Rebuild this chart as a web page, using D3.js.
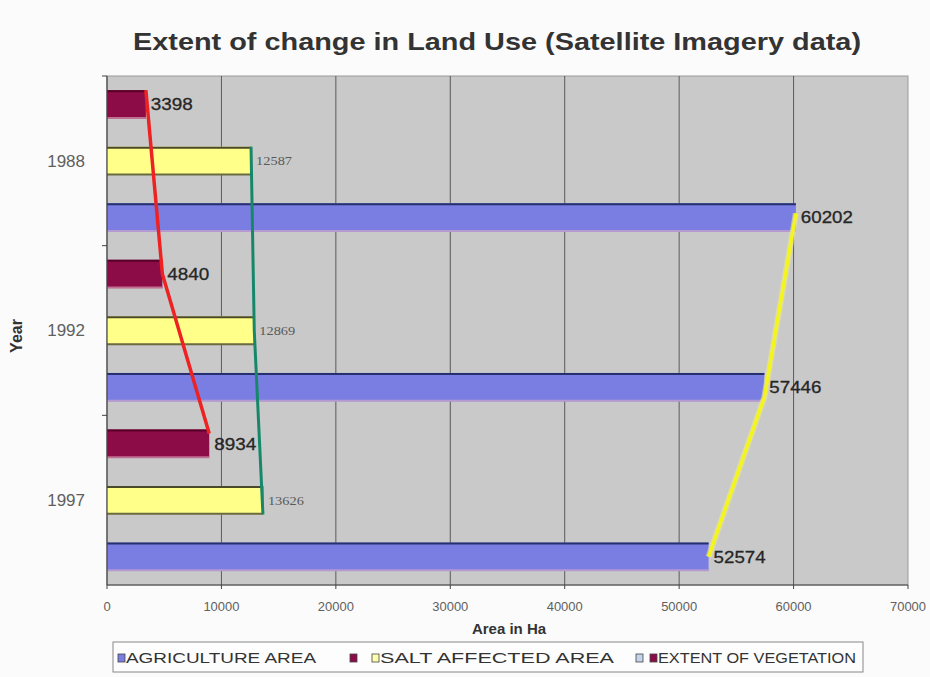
<!DOCTYPE html>
<html>
<head>
<meta charset="utf-8">
<script src="https://cdn.jsdelivr.net/npm/d3@7"></script>
<style>
  html, body { margin: 0; padding: 0; background: #fbfbfb; }
  svg { display: block; font-family: "Liberation Sans", Arial, sans-serif; }
</style>
</head>
<body>
<svg id="chart" width="930" height="677"></svg>
<script>
// Land use areas (ha) per survey year
const years = ["1988", "1992", "1997"];
const seriesNames = ["EXTENT OF VEGETATION", "SALT AFFECTED AREA", "AGRICULTURE AREA"];
const vegetation = [3398, 4840, 8934];
const saltAffected = [12587, 12869, 13626];
const agriculture = [60202, 57446, 52574];
const xTicks = [0, 10000, 20000, 30000, 40000, 50000, 60000, 70000];
const legendLabels = ["AGRICULTURE AREA", "SALT AFFECTED AREA", "EXTENT OF VEGETATION"];

const seriesValues = [vegetation, saltAffected, agriculture];

const svg = d3.select("#chart");
const plot = { left: 107, right: 908, top: 76, bottom: 585 };

const x = d3.scaleLinear().domain([0, 70000]).range([plot.left, plot.right]);
const y = d3.scaleBand().domain(years).range([plot.top, plot.bottom]).paddingInner(0).paddingOuter(0);
const ySub = d3.scaleBand().domain(seriesNames).range([0, y.bandwidth()]).paddingInner(0.5).paddingOuter(0.25);

const styles = {
  "EXTENT OF VEGETATION": { fill: "#8c0c48", top: "#5a0028", bottom: "#c07090" },
  "SALT AFFECTED AREA": { fill: "#ffff8a", top: "#4a4a28", bottom: "#6a6a40" },
  "AGRICULTURE AREA": { fill: "#7a7ee2", top: "#26306e", bottom: "#b49ad0" }
};

// Plot background
svg.append("rect")
  .attr("x", plot.left).attr("y", plot.top)
  .attr("width", plot.right - plot.left).attr("height", plot.bottom - plot.top)
  .attr("fill", "#c9c9c9").attr("stroke", "#9a9a9a");

// Vertical gridlines
svg.append("g")
  .selectAll("line")
  .data(xTicks.filter(t => t > 0 && t < 70000))
  .join("line")
  .attr("x1", d => x(d)).attr("x2", d => x(d))
  .attr("y1", plot.top).attr("y2", plot.bottom)
  .attr("stroke", "#5a5a5a").attr("stroke-width", 1);

// Bars
const rows = [];
years.forEach((yr, i) => {
  seriesNames.forEach((s, j) => {
    rows.push({ year: yr, series: s, value: seriesValues[j][i] });
  });
});

const barG = svg.append("g");
rows.forEach(r => {
  const st = styles[r.series];
  const y0 = y(r.year) + ySub(r.series);
  const h = ySub.bandwidth();
  const w = x(r.value) - x(0);
  barG.append("rect")
    .attr("x", x(0)).attr("y", y0).attr("width", w).attr("height", h)
    .attr("fill", st.fill);
  barG.append("line")
    .attr("x1", x(0)).attr("x2", x(r.value)).attr("y1", y0 + 1).attr("y2", y0 + 1)
    .attr("stroke", st.top).attr("stroke-width", 2);
  barG.append("line")
    .attr("x1", x(0)).attr("x2", x(r.value)).attr("y1", y0 + h - 0.5).attr("y2", y0 + h - 0.5)
    .attr("stroke", st.bottom).attr("stroke-width", 2);
  if (r.series === "SALT AFFECTED AREA") {
    barG.append("line")
      .attr("x1", x(r.value)).attr("x2", x(r.value)).attr("y1", y0).attr("y2", y0 + h)
      .attr("stroke", st.top).attr("stroke-width", 1);
  }
});

// Trend lines joining the bar ends of each series
const barTop = (yr, s) => y(yr) + ySub(s);
const barMid = (yr, s) => y(yr) + ySub(s) + ySub.bandwidth() / 2;
const barBot = (yr, s) => y(yr) + ySub(s) + ySub.bandwidth();
const line = d3.line();

const vegPts = [
  [x(vegetation[0]), barTop(years[0], seriesNames[0])],
  [x(vegetation[1]), barMid(years[1], seriesNames[0])],
  [x(vegetation[2]), barTop(years[2], seriesNames[0]) + 4]
];
const saltPts = [
  [x(saltAffected[0]), barTop(years[0], seriesNames[1])],
  [x(saltAffected[1]), barMid(years[1], seriesNames[1])],
  [x(saltAffected[2]), barBot(years[2], seriesNames[1])]
];
const agriPts = [
  [x(agriculture[0]), barMid(years[0], seriesNames[2]) - 4],
  [x(agriculture[1]), barBot(years[1], seriesNames[2]) - 4],
  [x(agriculture[2]), barMid(years[2], seriesNames[2])]
];

svg.append("path").attr("d", line(agriPts)).attr("fill", "none")
  .attr("stroke", "#e8e8a0").attr("stroke-width", 6).attr("opacity", 0.6);
svg.append("path").attr("d", line(agriPts)).attr("fill", "none")
  .attr("stroke", "#f4f41e").attr("stroke-width", 3.5);
svg.append("path").attr("d", line(saltPts)).attr("fill", "none")
  .attr("stroke", "#17876a").attr("stroke-width", 3);
svg.append("path").attr("d", line(vegPts)).attr("fill", "none")
  .attr("stroke", "#ee2222").attr("stroke-width", 3.5);

// Value labels
const fmt = d3.format("d");
rows.forEach(r => {
  const cy = barMid(r.year, r.series);
  const t = svg.append("text")
    .attr("x", x(r.value) + 5)
    .attr("y", cy)
    .attr("dy", "0.35em")
    .text(fmt(r.value));
  if (r.series === "SALT AFFECTED AREA") {
    t.attr("font-family", "'Liberation Serif', 'Times New Roman', serif")
      .attr("font-size", 13).attr("fill", "#5a5a5a")
      .attr("textLength", 36).attr("lengthAdjust", "spacingAndGlyphs");
  } else {
    t.attr("font-size", 17).attr("fill", "#262626").attr("font-weight", 500)
      .attr("stroke", "#262626").attr("stroke-width", 0.3)
      .attr("textLength", r.value >= 10000 ? 52 : 42).attr("lengthAdjust", "spacingAndGlyphs");
  }
});

// Axes lines
svg.append("line").attr("x1", plot.left).attr("x2", plot.left).attr("y1", plot.top).attr("y2", plot.bottom)
  .attr("stroke", "#444").attr("stroke-width", 1.2);
svg.append("line").attr("x1", plot.left).attr("x2", plot.right).attr("y1", plot.bottom).attr("y2", plot.bottom)
  .attr("stroke", "#444").attr("stroke-width", 1.2);

// Category ticks on the y axis (between year groups)
svg.append("g").selectAll("line")
  .data(years)
  .join("line")
  .attr("x1", plot.left - 5).attr("x2", plot.left)
  .attr("y1", d => y(d)).attr("y2", d => y(d))
  .attr("stroke", "#444");

// Year labels
svg.append("g").selectAll("text")
  .data(years)
  .join("text")
  .attr("x", 85)
  .attr("y", d => barMid(d, seriesNames[1]))
  .attr("dy", "0.35em")
  .attr("text-anchor", "end")
  .attr("font-size", 17)
  .attr("fill", "#606060")
  .text(d => d);

// X axis ticks and labels
svg.append("g").selectAll("line")
  .data(xTicks)
  .join("line")
  .attr("x1", d => x(d)).attr("x2", d => x(d))
  .attr("y1", plot.bottom).attr("y2", plot.bottom + 4)
  .attr("stroke", "#444");
svg.append("g").selectAll("text")
  .data(xTicks)
  .join("text")
  .attr("x", d => x(d))
  .attr("y", 611)
  .attr("text-anchor", "middle")
  .attr("font-size", 13)
  .attr("fill", "#606060")
  .attr("textLength", d => d === 0 ? null : 36)
  .attr("lengthAdjust", "spacingAndGlyphs")
  .text(d => d);

// Axis titles
svg.append("text")
  .attr("x", 509).attr("y", 634)
  .attr("text-anchor", "middle")
  .attr("font-size", 15).attr("font-weight", "bold").attr("fill", "#333")
  .text("Area in Ha");
svg.append("text")
  .attr("transform", "translate(22,336) rotate(-90)")
  .attr("text-anchor", "middle")
  .attr("font-size", 16).attr("font-weight", "bold").attr("fill", "#333")
  .text("Year");

// Title
svg.append("text")
  .attr("x", 497).attr("y", 50)
  .attr("text-anchor", "middle")
  .attr("font-size", 24).attr("font-weight", "bold").attr("fill", "#333")
  .attr("textLength", 728).attr("lengthAdjust", "spacingAndGlyphs")
  .text("Extent of change in Land Use (Satellite Imagery data)");

// Legend
const legend = svg.append("g");
legend.append("rect")
  .attr("x", 113).attr("y", 642).attr("width", 750).attr("height", 30)
  .attr("fill", "#fdfdfd").attr("stroke", "#888");

const legendItems = [
  { key: "#7a7ee2", label: legendLabels[0], x: 118, w: 190 },
  { key: "#8c0c48", label: null, x: 350 },
  { key: "#ffffb0", label: legendLabels[1], x: 372, w: 234 },
  { key: "#c4d4ea", label: null, x: 636 },
  { key: "#8c0c48", label: legendLabels[2], x: 650, w: 198 }
];
legendItems.forEach(it => {
  legend.append("rect")
    .attr("x", it.x).attr("y", 654).attr("width", 7).attr("height", 8)
    .attr("fill", it.key).attr("stroke", "#444").attr("stroke-width", 0.8);
  if (it.label) {
    legend.append("text")
      .attr("x", it.x + 8).attr("y", 663)
      .attr("font-size", 14).attr("fill", "#333")
      .attr("textLength", it.w).attr("lengthAdjust", "spacingAndGlyphs")
      .text(it.label);
  }
});
</script>
</body>
</html>
